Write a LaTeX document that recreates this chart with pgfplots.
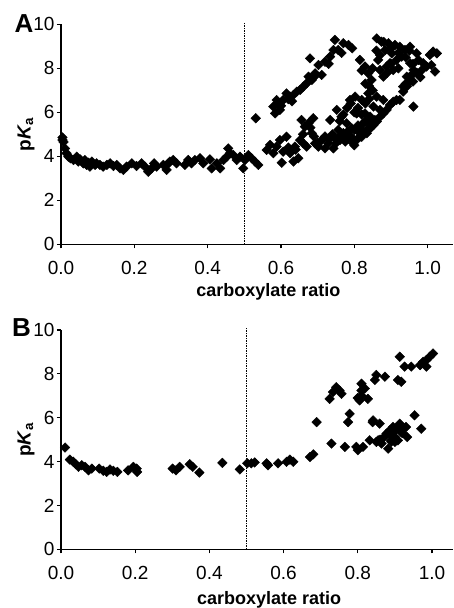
\documentclass[border=0pt]{standalone}
\usepackage{fontspec}
\setmainfont{Liberation Sans}
\usepackage{pgfplots}
\pgfplotsset{compat=1.18}
\pgfplotsset{
 myax/.style={
  scale only axis, axis lines=left, axis line style={-, line width=1.2pt},
  xmin=0, ymin=0, ymax=10, clip=false,
  xtick={0,0.2,0.4,0.6,0.8,1.0}, ytick={0,2,4,6,8,10},
  minor tick num=0,
  tick align=outside, major tick length=4pt,
  every tick/.style={line width=1.2pt, black},
  /pgf/number format/assume math mode=true,
  x tick label style={/pgf/number format/fixed, /pgf/number format/fixed zerofill, /pgf/number format/precision=1, yshift=-9pt},
  y tick label style={xshift=1pt},
  tick label style={font=\fontsize{19}{19}\selectfont},
  xlabel={carboxylate ratio},
  ylabel={p\textit{K}\textsubscript{a}},
  ylabel style={at={(axis description cs:0,0.5)}, anchor=center, yshift=35pt, font=\bfseries\fontsize{19}{19}\selectfont},
 },
 pts/.style={black, only marks, mark=square*, mark size=3.4pt, mark options={rotate=45, fill=black, draw=black}},
 dotl/.style={no markers, black, line width=1.5pt, dash pattern=on 1.5pt off 1.0pt},
}
\begin{document}
\begin{tikzpicture}
\path[use as bounding box] (0pt,0pt) rectangle (453pt,608pt);
\begin{axis}[myax, at={(61pt,363.7pt)}, anchor=south west, width=392pt, height=220pt, xmax=1.069,
  xlabel style={at={(axis description cs:0.529,0)}, anchor=center, yshift=-48pt, font=\bfseries\fontsize{18}{18}\selectfont}]
\addplot[dotl, sharp plot] coordinates {(0.5,0) (0.5,10.1)};
\addplot[pts] coordinates {
(0.004,4.86) (0.004,4.74) (0.007,4.65) (0.011,4.36) (0.015,4.14) (0.020,3.98) (0.026,3.91) (0.034,3.83)
(0.043,3.98) (0.047,3.76) (0.052,3.86) (0.061,3.68) (0.065,3.83) (0.070,3.61) (0.075,3.71) (0.079,3.53)
(0.084,3.76) (0.093,3.61) (0.097,3.68) (0.106,3.61) (0.115,3.53) (0.125,3.61) (0.134,3.68) (0.143,3.56)
(0.152,3.61) (0.161,3.45) (0.170,3.38) (0.179,3.53) (0.193,3.68) (0.206,3.56) (0.220,3.68) (0.229,3.53)
(0.238,3.30) (0.247,3.45) (0.254,3.68) (0.261,3.53) (0.279,3.61) (0.288,3.38) (0.293,3.68) (0.297,3.76)
(0.306,3.83) (0.315,3.68) (0.338,3.61) (0.347,3.83) (0.356,3.68) (0.365,3.83) (0.379,3.91) (0.388,3.68)
(0.406,3.86) (0.411,3.45) (0.425,3.68) (0.434,3.45) (0.443,3.83) (0.452,3.98) (0.456,4.36) (0.461,4.14)
(0.470,4.06) (0.479,3.83) (0.488,3.98) (0.497,3.45) (0.502,3.83) (0.511,4.06) (0.520,3.91) (0.529,3.76)
(0.538,3.61)
(0.531,5.73) (0.579,6.26) (0.584,5.95) (0.588,6.56) (0.590,6.40) (0.597,6.11) (0.600,6.30) (0.606,6.56)
(0.615,6.86) (0.620,6.60) (0.625,6.71) (0.630,6.50) (0.634,6.79) (0.643,6.94) (0.652,7.02) (0.661,7.17)
(0.670,7.32) (0.675,7.62) (0.679,8.45) (0.684,7.47) (0.690,7.60) (0.693,7.77) (0.702,8.15) (0.711,7.70)
(0.720,8.30) (0.730,8.20) (0.734,8.53) (0.743,8.83) (0.747,9.29) (0.756,8.83) (0.765,8.70) (0.770,9.14)
(0.784,9.06) (0.794,8.91)
(0.561,4.29) (0.570,4.52) (0.579,4.14) (0.588,4.44) (0.597,4.74) (0.602,3.71) (0.606,4.21) (0.615,4.89)
(0.625,4.14) (0.634,3.76) (0.638,4.44) (0.647,3.91) (0.652,4.74) (0.656,5.65) (0.665,5.35) (0.661,4.59)
(0.670,4.44) (0.675,5.50) (0.684,5.05) (0.688,5.73) (0.693,4.59) (0.702,4.44) (0.711,4.74) (0.720,4.36)
(0.729,4.59) (0.734,5.65) (0.738,4.89) (0.743,4.36) (0.747,4.82) (0.752,6.11) (0.756,5.20) (0.761,4.74)
(0.765,5.80) (0.770,5.05) (0.775,4.67) (0.779,5.50) (0.784,4.89) (0.788,6.56) (0.793,5.27) (0.797,4.74)
(0.802,6.71) (0.806,5.95) (0.811,5.12) (0.815,8.38) (0.815,4.89) (0.820,6.56) (0.824,5.50) (0.829,8.08)
(0.829,5.95) (0.834,5.20) (0.838,7.77) (0.838,6.86) (0.843,5.80) (0.847,7.47) (0.847,5.35) (0.852,6.26)
(0.856,5.65) (0.861,9.36) (0.861,6.71) (0.865,8.38) (0.870,6.11) (0.870,7.92) (0.874,9.21) (0.879,7.62)
(0.879,6.56) (0.884,8.83) (0.888,8.08) (0.893,9.14) (0.897,8.23) (0.902,8.68) (0.906,7.92) (0.911,9.06)
(0.915,8.38) (0.924,8.98) (0.924,6.56) (0.929,8.53) (0.933,7.17) (0.938,8.83) (0.943,7.62) (0.952,8.98)
(0.952,8.23) (0.961,6.26) (0.961,7.92) (0.970,8.68) (0.975,8.38) (0.984,7.92) (0.988,8.23) (0.997,8.08)
(1.006,8.61) (1.015,8.76) (1.020,7.85) (1.025,8.68) (1.010,8.15)
(0.797,4.59) (0.806,4.74) (0.820,4.89) (0.834,5.05) (0.843,5.27) (0.852,5.42) (0.861,5.58) (0.870,5.80)
(0.879,5.95) (0.888,6.11) (0.897,6.33) (0.906,6.48) (0.915,6.56) (0.933,6.94) (0.943,7.17) (0.952,7.39)
(0.961,7.77)
(0.72,4.9) (0.73,4.8) (0.74,5.0) (0.75,4.6) (0.76,4.9) (0.77,4.8) (0.78,5.1) (0.79,4.9) (0.80,5.2)
(0.81,5.4) (0.82,5.2) (0.83,5.6) (0.84,5.5) (0.76,5.6) (0.77,5.9) (0.78,6.2) (0.79,6.4) (0.80,6.0)
(0.81,6.2) (0.82,5.9) (0.83,6.4) (0.84,6.6) (0.85,7.0) (0.84,7.2) (0.83,7.3) (0.82,7.9) (0.85,8.0)
(0.86,8.8) (0.87,8.6) (0.88,9.2) (0.90,8.9) (0.92,8.7) (0.94,8.5) (0.95,8.8) (0.96,8.2) (0.97,7.8)
(0.98,7.6) (0.96,7.4) (0.95,7.6) (0.94,7.3) (0.89,7.8) (0.90,8.2) (0.92,8.0) (0.80,4.5) (0.70,4.6)
(0.69,4.9) (0.68,5.3) (0.66,5.0) (0.64,4.3) (0.62,4.4)
};
\end{axis}
\begin{axis}[myax, at={(61pt,58.7pt)}, anchor=south west, width=392pt, height=219.3pt, xmax=1.0566,
  xlabel style={at={(axis description cs:0.531,0)}, anchor=center, yshift=-51pt, font=\bfseries\fontsize{18}{18}\selectfont}]
\addplot[dotl, sharp plot] coordinates {(0.5,0) (0.5,10.1)};
\addplot[pts] coordinates {
(0.011,4.64) (0.024,4.09) (0.033,3.99) (0.040,3.88) (0.047,3.76) (0.056,3.83) (0.065,3.76) (0.074,3.60)
(0.083,3.68) (0.103,3.68) (0.114,3.58) (0.123,3.53) (0.132,3.64) (0.141,3.58) (0.152,3.53) (0.181,3.60)
(0.195,3.76) (0.204,3.68) (0.205,3.53) (0.301,3.68) (0.310,3.60) (0.320,3.76) (0.347,3.88) (0.355,3.76)
(0.373,3.50) (0.435,3.94) (0.482,3.64) (0.502,3.92) (0.513,3.92) (0.522,3.96) (0.554,3.92) (0.558,3.83)
(0.585,3.92) (0.608,3.99) (0.617,4.09) (0.626,3.99) (0.671,4.21) (0.680,4.33) (0.689,5.80) (0.724,6.86)
(0.729,4.82) (0.733,7.17) (0.742,7.39) (0.751,7.24) (0.756,7.09) (0.765,4.67) (0.774,5.80) (0.778,6.18)
(0.796,4.67) (0.800,4.52) (0.805,6.79) (0.810,7.24) (0.810,7.55) (0.814,4.67) (0.819,7.33) (0.827,6.86)
(0.832,4.97) (0.841,5.88) (0.846,7.72) (0.850,7.95) (0.855,4.97) (0.859,5.73) (0.864,4.82) (0.873,7.87)
(0.877,5.27) (0.882,4.59) (0.886,5.42) (0.890,4.97) (0.895,5.58) (0.900,5.12) (0.904,5.50) (0.908,7.72)
(0.908,4.97) (0.913,8.78) (0.913,5.73) (0.917,5.35) (0.917,7.64) (0.926,8.33) (0.930,5.58) (0.933,5.12)
(0.944,8.33) (0.953,6.11) (0.968,8.40) (0.971,5.50) (0.976,8.55) (0.985,8.33) (0.994,8.78) (1.003,8.93)
(0.985,8.63) (0.87,5.1) (0.88,5.3) (0.89,5.2) (0.90,5.4) (0.90,4.9) (0.91,5.6) (0.89,4.9) (0.92,5.3)
(0.86,5.0) (0.85,4.9) (0.84,5.8) (0.80,6.9) (0.81,7.0)
};
\end{axis}
\node[font=\bfseries\fontsize{26}{26}\selectfont] at (24pt,584pt) {A};
\node[font=\bfseries\fontsize{26}{26}\selectfont] at (21.5pt,280pt) {B};
\end{tikzpicture}
\end{document}
